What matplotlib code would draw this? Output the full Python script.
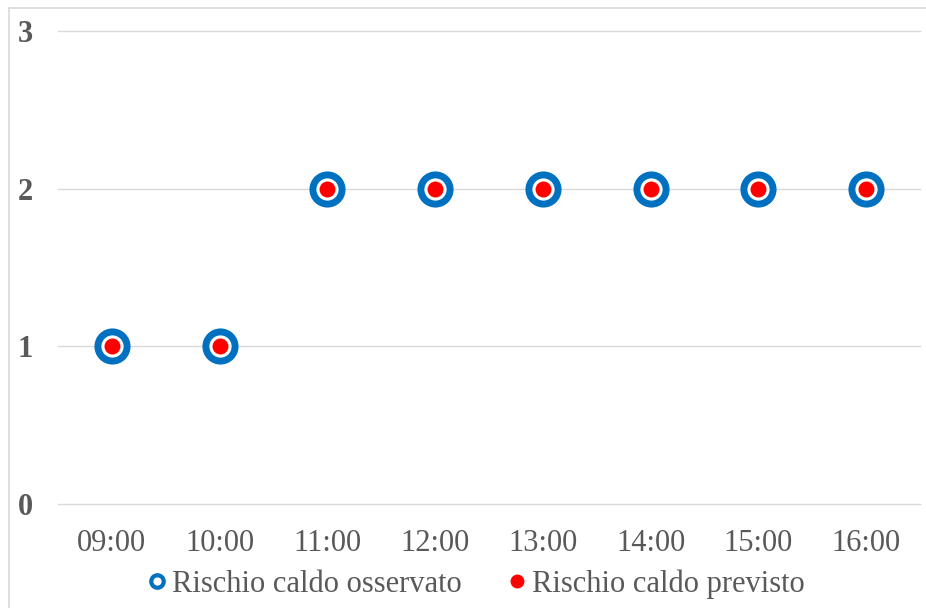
import numpy as np
import matplotlib.pyplot as plt
from matplotlib.lines import Line2D

hours = ["09:00", "10:00", "11:00", "12:00", "13:00", "14:00", "15:00", "16:00"]
observed = [1, 1, 2, 2, 2, 2, 2, 2]
forecast = [1, 1, 2, 2, 2, 2, 2, 2]
y_ticks = [0, 1, 2, 3]

blue = "#0070C0"
red = "#FF0000"
text_col = "#595959"

plt.rcParams['font.family'] = ['Liberation Serif', 'DejaVu Serif']

W, H = 926, 608
fig = plt.figure(figsize=(W / 100, H / 100), dpi=100)
ax = fig.add_axes([58 / W, 1 - 504 / H, (920 - 58) / W, (504 - 31) / H])

x = np.arange(len(hours))
ax.plot(x, observed, linestyle="none", marker="o", markersize=21,
        markerfacecolor="white", markeredgecolor=blue, markeredgewidth=5,
        zorder=3)
ax.plot(x, forecast, linestyle="none", marker="o", markersize=11.5,
        markerfacecolor=red, markeredgecolor=red, markeredgewidth=0,
        zorder=4)

ax.set_xlim(-0.5, len(hours) - 0.5)
ax.set_ylim(0, 3)
ax.set_yticks(y_ticks)
ax.set_xticks(x)
ax.set_xticklabels(hours, fontsize=22, color=text_col)
ax.set_yticklabels([str(v) for v in y_ticks], fontsize=22,
                   fontweight="bold", color=text_col)
ax.tick_params(length=0)
ax.tick_params(axis="x", pad=18)
for lab in ax.get_yticklabels():
    lab.set_horizontalalignment("left")
ax.yaxis.set_tick_params(pad=29)
ax.grid(axis="y", color="#D9D9D9", linewidth=1)
for gl in ax.get_ygridlines():
    gl.set_clip_on(False)
ax.set_axisbelow(True)
for s in ax.spines.values():
    s.set_visible(False)

handles = [
    Line2D([], [], linestyle="none", marker="o", markersize=9,
           markerfacecolor="white", markeredgecolor=blue, markeredgewidth=3),
    Line2D([], [], linestyle="none", marker="o", markersize=9,
           markerfacecolor=red, markeredgecolor=red),
]
leg = fig.legend(handles, ["Rischio caldo osservato", "Rischio caldo previsto"],
                 loc="center", bbox_to_anchor=(473 / W, 1 - 584 / H), ncol=2,
                 frameon=False, handletextpad=0.0, columnspacing=1.3,
                 handlelength=1.0, fontsize=22)
for t in leg.get_texts():
    t.set_color(text_col)

# chart frame
fig.add_artist(Line2D([9 / W, 9 / W], [0, 1 - 8 / H], color="#D9D9D9",
                      linewidth=1.2, transform=fig.transFigure))
fig.add_artist(Line2D([9 / W, 1], [1 - 8 / H, 1 - 8 / H], color="#D9D9D9",
                      linewidth=1.2, transform=fig.transFigure))

fig.savefig("out.png", dpi=100)
